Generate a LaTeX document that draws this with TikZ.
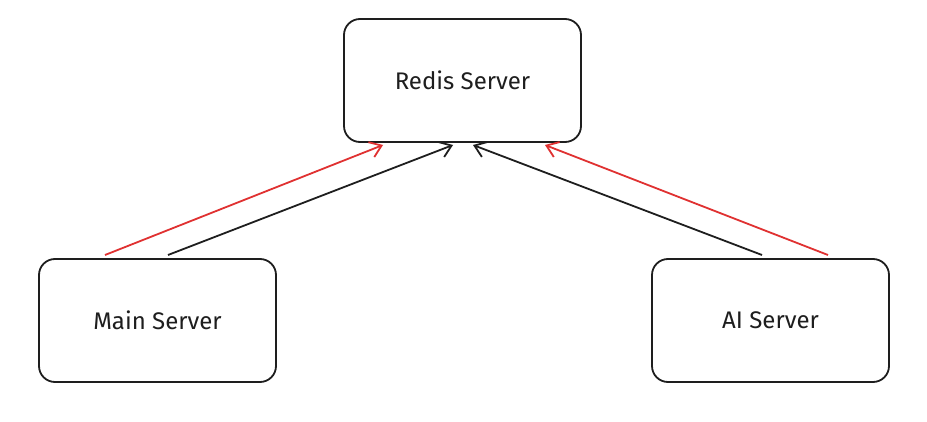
\documentclass[tikz,border=0pt]{standalone}
\usepackage{fontspec}
\setmainfont{Fira Sans}
\usetikzlibrary{arrows.meta}
\definecolor{exred}{HTML}{E03131}
\definecolor{exblack}{HTML}{1E1E1E}
\begin{document}
\begin{tikzpicture}[x=1pt,y=-1pt,
  server/.style={draw=exblack,line width=1.8pt,rounded corners=16pt,fill=white,
    minimum width=237pt,minimum height=123pt,inner sep=0pt,
    font=\fontsize{24}{28}\selectfont,text=exblack},
  link/.style={line width=1.8pt,-{Straight Barb[length=11pt,width=16pt,line width=1.8pt]}}]
\useasboundingbox[fill=white] (0,0) rectangle (927,422);
\node[server] (redis) at (462.5,80.5) {Redis Server};
\node[server] (main) at (157.5,320.5) {Main Server};
\node[server] (ai) at (770.5,320.5) {AI Server};
\coordinate (m1) at (105,255);
\coordinate (m2) at (168,255);
\coordinate (a1) at (762,255);
\coordinate (a2) at (828,255);
\coordinate (r1) at (383,145);
\coordinate (r2) at (453,145);
\coordinate (r3) at (473,145);
\coordinate (r4) at (545,145);
\draw[link,exred] (m1) -- (r1);
\draw[link,exblack] (m2) -- (r2);
\draw[link,exblack] (a1) -- (r3);
\draw[link,exred] (a2) -- (r4);
\end{tikzpicture}
\end{document}
